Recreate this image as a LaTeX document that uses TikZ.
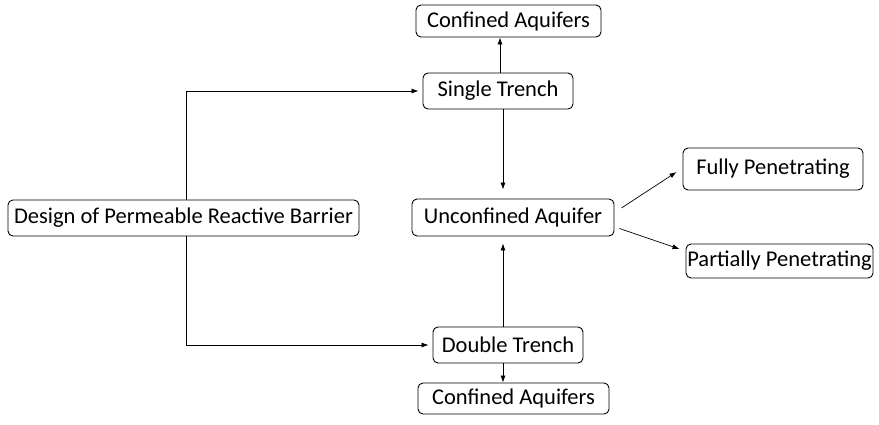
\documentclass[tikz,border=0pt]{standalone}
\usepackage{fontspec}
\setmainfont{Carlito}
\usetikzlibrary{arrows.meta,calc}
\begin{document}
\begin{tikzpicture}[x=1pt,y=-1pt,
  box/.style={draw, rounded corners=5pt, line width=0.9pt, inner sep=0pt, align=center, font=\fontsize{22.5}{27}\selectfont},
  arr/.style={-{Latex[length=7pt,width=5pt]}, line width=0.7pt}]
\useasboundingbox (0,0) rectangle (879,424);
\node[box, minimum width=185pt, minimum height=32pt] (ca1) at (508.5,21) {Confined Aquifers};
\node[box, minimum width=150pt, minimum height=36pt] (st) at (498,91) {Single Trench};
\node[box, minimum width=351pt, minimum height=36pt] (des) at (183.5,218) {Design of Permeable Reactive Barrier};
\node[box, minimum width=202pt, minimum height=37pt] (ua) at (513,217.5) {Unconfined Aquifer};
\node[box, minimum width=180pt, minimum height=42pt] (fp) at (773,169) {Fully Penetrating};
\node[box, minimum width=187pt, minimum height=34pt] (pp) at (779.5,261) {Partially Penetrating};
\node[box, minimum width=150pt, minimum height=36pt] (dt) at (508,345) {Double Trench};
\node[box, minimum width=191pt, minimum height=31pt] (ca2) at (513.5,398.5) {Confined Aquifers};

\draw[arr] ([xshift=2pt]st.north) -- ([xshift=2pt]st.north |- ca1.south);
\draw[arr, shorten >=9pt] ([xshift=5pt]st.south) -- ([xshift=5pt]st.south |- ua.north);
\draw[arr, shorten >=7pt] ([xshift=-5pt]dt.north) -- ([xshift=-5pt]dt.north |- ua.south);
\draw[arr] ([xshift=-5pt]dt.south) -- ([xshift=-5pt]dt.south |- ca2.north);
\draw[arr, shorten >=4pt] ([xshift=2.5pt]des.north) -- ([xshift=2.5pt]des.north |- st.west) -- (st.west);
\draw[arr, shorten >=4pt] ([xshift=2.5pt]des.south) -- ([xshift=2.5pt]des.south |- dt.west) -- (dt.west);
\draw[arr] ($(ua.east)+(7,-9.5)$) -- ($(fp.west)+(-6,3)$);
\draw[arr] ($(ua.east)+(5,11)$) -- ($(pp.west)+(-6,-12)$);
\end{tikzpicture}
\end{document}
